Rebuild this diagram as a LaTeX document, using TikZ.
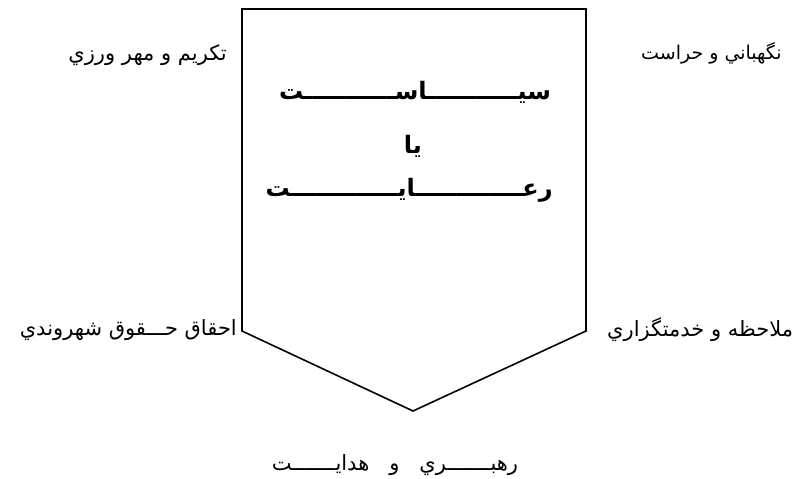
\documentclass[tikz,border=0pt]{standalone}
\usepackage{fontspec}
\TeXXeTstate=1
\newfontfamily\arabicfont[Script=Arabic]{DejaVu Sans}
\begin{document}
\begin{tikzpicture}[x=1pt,y=-1pt,
  lbl/.style={font=\arabicfont\fontsize{21}{24}\selectfont, inner sep=0pt},
  ttl/.style={font=\arabicfont\bfseries\fontsize{24}{28}\selectfont, inner sep=0pt},
  frame/.style={draw=black, line width=1.6pt, line join=miter}]
\useasboundingbox (0,0) rectangle (806,479);
\coordinate (A) at (242,9);
\coordinate (B) at (586,9);
\coordinate (C) at (586,331);
\coordinate (D) at (413,411);
\coordinate (E) at (242,331);
\draw[frame] (A) -- (B) -- (C) -- (D) -- (E) -- cycle;
\node[ttl] (t1) at (415,92) {\beginR سیـــــــــــاســـــــــــت\endR};
\node[ttl] (t2) at (413,146) {\beginR یا\endR};
\node[ttl] (t3) at (409,190) {\beginR رعـــــــــــــایـــــــــــــت\endR};
\node[lbl, anchor=east] (tl) at (227,55) {\beginR تکریم و مهر ورزي\endR};
\node[lbl, anchor=west, font=\arabicfont\fontsize{19}{22}\selectfont] (tr) at (641,53) {\beginR نگهباني و حراست\endR};
\node[lbl, anchor=east] (bl) at (237,330) {\beginR احقاق حـــقوق شهروندي\endR};
\node[lbl, anchor=west] (br) at (607,330) {\beginR ملاحظه و خدمتگزاري\endR};
\node[lbl] (bot) at (395,465) {\beginR رهبـــــــري\hspace{20pt}و\hspace{20pt}هدایـــــــت\endR};
\end{tikzpicture}
\end{document}
